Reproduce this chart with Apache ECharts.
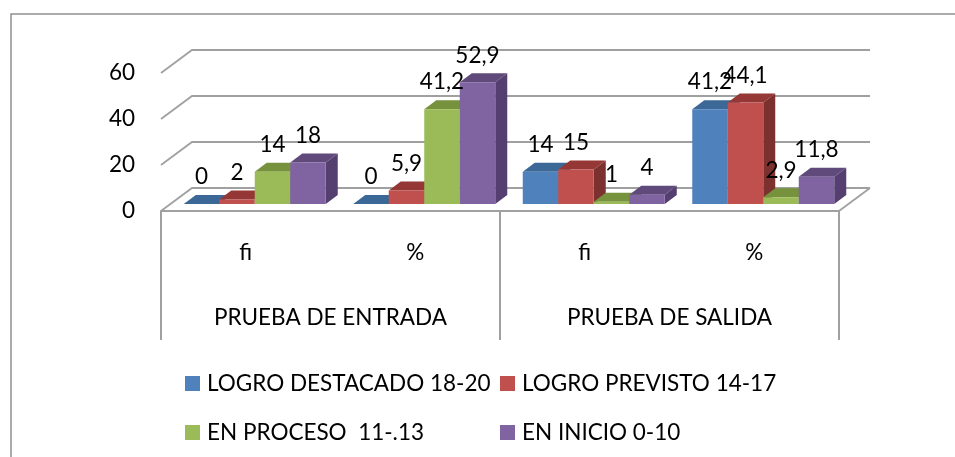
<!DOCTYPE html>
<html>
<head>
<meta charset="utf-8">
<style>
html, body { margin: 0; padding: 0; background: #fff; }
#main { width: 955px; height: 457px; }
</style>
<script src="https://cdn.jsdelivr.net/npm/echarts@6/dist/echarts.min.js"></script>
</head>
<body>
<div id="main"></div>
<script>
const subCategories = ['fi', '%', 'fi', '%'];
const groups = ['PRUEBA DE ENTRADA', 'PRUEBA DE SALIDA'];
const yTicks = [0, 20, 40, 60];

const logroDestacado = [0, 0, 14, 41.2];
const logroPrevisto = [2, 5.9, 15, 44.1];
const enProceso = [14, 41.2, 1, 2.9];
const enInicio = [18, 52.9, 4, 11.8];

const names = ['LOGRO DESTACADO 18-20', 'LOGRO PREVISTO 14-17', 'EN PROCESO  11-.13', 'EN INICIO 0-10'];
const values = [logroDestacado, logroPrevisto, enProceso, enInicio];
// front, top, side
const colors = [
    ['#4f81bd', '#3c6897', '#385d8a'],
    ['#c0504d', '#953735', '#7d312f'],
    ['#9bbb59', '#76923c', '#62792f'],
    ['#8064a2', '#604a7b', '#543f70']
];

const fontFamily = 'Lato, "Open Sans", sans-serif';
const fontSize = 22.5;
const lineColor = '#a0a0a0';
const barW = 35.5;
const wallDepth = [31, -23]; // floor depth of the box
const barInset = [9, -7];    // bar front sits this far back from the front edge
const barDepth = [12, -9];

const myChart = echarts.init(document.getElementById('main'));

function renderWall(params, api) {
    const cs = params.coordSys;
    const y = api.coord([0, api.value(1)])[1];
    const left = cs.x, right = cs.x + cs.width;
    const children = [{
        type: 'polyline',
        shape: { points: [[left, y], [left + wallDepth[0], y + wallDepth[1]], [right + wallDepth[0], y + wallDepth[1]]] },
        style: { fill: 'none', stroke: lineColor, lineWidth: 1.8 }
    }];
    if (api.value(1) === 0) {
        children.push({
            type: 'line',
            shape: { x1: right, y1: y, x2: right + wallDepth[0], y2: y + wallDepth[1] },
            style: { stroke: lineColor, lineWidth: 1.8 }
        });
    }
    return { type: 'group', children: children };
}

function makeBarRenderer(s) {
    return function (params, api) {
        const cat = api.value(0), val = api.value(1);
        const cx = api.coord([cat, 0])[0];
        const y0 = api.coord([cat, 0])[1] + barInset[1];
        const yTop = api.coord([cat, val])[1] + barInset[1];
        const x = cx + barInset[0] + (s - 2) * barW;
        const dx = barDepth[0], dy = barDepth[1];
        const c = colors[s];
        return {
            type: 'group',
            children: [
                {
                    type: 'polygon',
                    shape: { points: [[x + barW, y0], [x + barW + dx, y0 + dy], [x + barW + dx, yTop + dy], [x + barW, yTop]] },
                    style: { fill: c[2] }
                },
                {
                    type: 'polygon',
                    shape: { points: [[x, yTop], [x + dx, yTop + dy], [x + barW + dx, yTop + dy], [x + barW, yTop]] },
                    style: { fill: c[1] }
                },
                {
                    type: 'rect',
                    shape: { x: x, y: yTop, width: barW, height: y0 - yTop },
                    style: { fill: c[0] }
                },
                {
                    type: 'text',
                    z2: 100,
                    style: {
                        text: String(val).replace('.', ','),
                        x: x + barW / 2,
                        y: yTop - 27,
                        align: 'center',
                        verticalAlign: 'middle',
                        fill: '#000',
                        font: fontSize + 'px ' + fontFamily
                    }
                }
            ]
        };
    };
}

const series = [{
    name: 'pared',
    type: 'custom',
    renderItem: renderWall,
    encode: { x: 0, y: 1 },
    silent: true,
    data: yTicks.map(v => [0, v])
}];
names.forEach((name, s) => {
    series.push({
        name: name,
        type: 'custom',
        renderItem: makeBarRenderer(s),
        encode: { x: 0, y: 1 },
        itemStyle: { color: colors[s][0] },
        data: values[s].map((v, i) => [i, v])
    });
});

const legendBase = {
    orient: 'vertical',
    top: 367,
    icon: 'rect',
    itemWidth: 15,
    itemHeight: 15,
    itemGap: 26,
    textStyle: { fontFamily: fontFamily, fontSize: fontSize, color: '#000', padding: [0, 0, 0, 2] }
};

const option = {
    animation: false,
    grid: { left: 161, top: 73, width: 678, height: 138 },
    graphic: [{
        type: 'polyline',
        shape: { points: [[11, 457], [11, 14], [955, 14]] },
        style: { fill: 'none', stroke: '#909090', lineWidth: 1.5 },
        silent: true
    }],
    legend: [
        Object.assign({}, legendBase, { left: 180, data: [names[0], names[2]] }),
        Object.assign({}, legendBase, { left: 495, data: [names[1], names[3]] })
    ],
    xAxis: [
        {
            type: 'category',
            data: subCategories,
            position: 'bottom',
            axisLine: { lineStyle: { color: lineColor, width: 2 } },
            axisTick: { show: false },
            axisLabel: { interval: 0, margin: 42, color: '#000', fontFamily: fontFamily, fontSize: fontSize, verticalAlign: 'middle' }
        },
        {
            type: 'category',
            data: groups,
            position: 'bottom',
            axisLine: { show: false },
            axisTick: { show: true, length: 129, lineStyle: { color: lineColor, width: 2 } },
            axisLabel: { interval: 0, margin: 107, color: '#000', fontFamily: fontFamily, fontSize: fontSize, verticalAlign: 'middle' }
        }
    ],
    yAxis: {
        type: 'value',
        min: 0,
        max: 60,
        interval: 20,
        axisLine: { show: false },
        axisTick: { show: false },
        splitLine: { show: false },
        axisLabel: { margin: 26, color: '#000', fontFamily: fontFamily, fontSize: fontSize }
    },
    series: series
};

myChart.setOption(option);
</script>
</body>
</html>
